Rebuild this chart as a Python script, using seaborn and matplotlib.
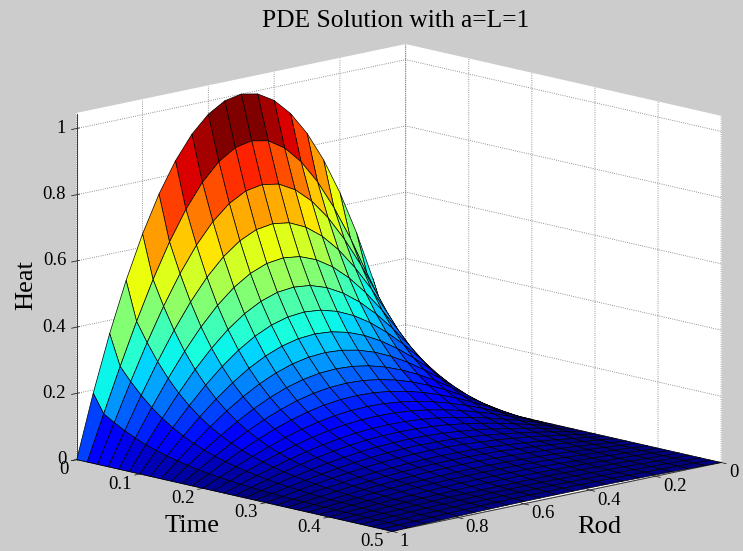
import numpy as np
import matplotlib
matplotlib.use("Agg")
import matplotlib.pyplot as plt
import seaborn as sns

# Values
rod = [i / 20 for i in range(21)]
time = [k / 60 for k in range(31)]
# first row (time 0) is rounder than the later ones
heat_start = [0.0, 0.19, 0.36, 0.51, 0.64, 0.75, 0.84, 0.91, 0.96, 0.99, 1.0,
              0.99, 0.96, 0.91, 0.84, 0.75, 0.64, 0.51, 0.36, 0.19, 0.0]
rod_shape = [0.0, 0.156, 0.309, 0.454, 0.588, 0.707, 0.809, 0.891, 0.951, 0.988, 1.0,
             0.988, 0.951, 0.891, 0.809, 0.707, 0.588, 0.454, 0.309, 0.156, 0.0]
peak_by_time = [0.866, 0.741, 0.63, 0.534, 0.453, 0.385, 0.326, 0.277, 0.235, 0.199,
                0.169, 0.143, 0.122, 0.103, 0.088, 0.074, 0.063, 0.054, 0.045, 0.039,
                0.033, 0.028, 0.024, 0.02, 0.017, 0.014, 0.012, 0.01, 0.009, 0.007]
rod_ticks = [0, 0.2, 0.4, 0.6, 0.8, 1]
time_ticks = [0, 0.1, 0.2, 0.3, 0.4, 0.5]
heat_ticks = [0, 0.2, 0.4, 0.6, 0.8, 1]

sns.set_theme(style="white")
plt.rcParams["font.family"] = ["Liberation Serif", "DejaVu Serif"]
GRAY = "#CCCCCC"

R, T = np.meshgrid(rod, time)
heat = np.vstack([heat_start, np.outer(peak_by_time, rod_shape)])

# 64 level jet, coloured like surf does it
jet = sns.mpl_palette("jet", 64, as_cmap=True)
colors = jet(np.floor(heat * 63.999) / 63)

fig = plt.figure(figsize=(7.43, 5.51), dpi=100, facecolor=GRAY)
ax = fig.add_axes([20 / 743, -20 / 551, 1, 1], projection="3d", proj_type="ortho", facecolor="none")
surf = ax.plot_surface(R, T, heat, facecolors=colors, rstride=1, cstride=1, shade=False,
                       edgecolor="black", linewidth=0.5)
surf.set_clip_on(False)

ax.set_xlim(0, 1, view_margin=0)
ax.set_ylim(0, 0.5, view_margin=0)
ax.set_zlim(0, 1.045, view_margin=0)
ax.set_box_aspect((1, 1, 0.778), zoom=1.296)
ax.view_init(elev=12.6, azim=46.2)

ax.set_xticks(rod_ticks)
ax.set_yticks(time_ticks)
ax.set_zticks(heat_ticks)
ax.set_xticklabels(["0", "0.2", "0.4", "0.6", "0.8", "1"], ha="left", va="center")
ax.set_yticklabels(["0", "0.1", "0.2", "0.3", "0.4", "0.5"], ha="right", va="center")
ax.set_zticklabels(["0", "0.2", "0.4", "0.6", "0.8", "1"], ha="right", va="center")
ax.tick_params(labelsize=13.5, labelcolor="black")
ax.tick_params(axis="x", pad=-3)
ax.tick_params(axis="y", pad=-2.9)
ax.tick_params(axis="z", pad=-4.6)

for axis in (ax.xaxis, ax.yaxis, ax.zaxis):
    axis.set_pane_color("white")
    axis.pane.set_edgecolor("white")
    axis.line.set_color("#404040")
    axis.line.set_linewidth(0.8)
    axis.line.set_clip_on(False)
    axis._axinfo["grid"].update(color="#707070", linestyle=":", linewidth=0.6)
    axis._axinfo["tick"].update(linewidth={True: 0.6, False: 0.6}, color="#404040")

fig.text(0.533, 0.962, "PDE Solution with a=L=1", ha="center", va="center", fontsize=18.4, color="black")
fig.text(0.806, 0.043, "Rod", ha="center", va="center", fontsize=19, color="black")
fig.text(0.258, 0.045, "Time", ha="center", va="center", fontsize=19, color="black")
fig.text(0.035, 0.483, "Heat", ha="center", va="center", rotation=90, fontsize=19, color="black")

fig.savefig("out.png", dpi=100, facecolor=GRAY)
